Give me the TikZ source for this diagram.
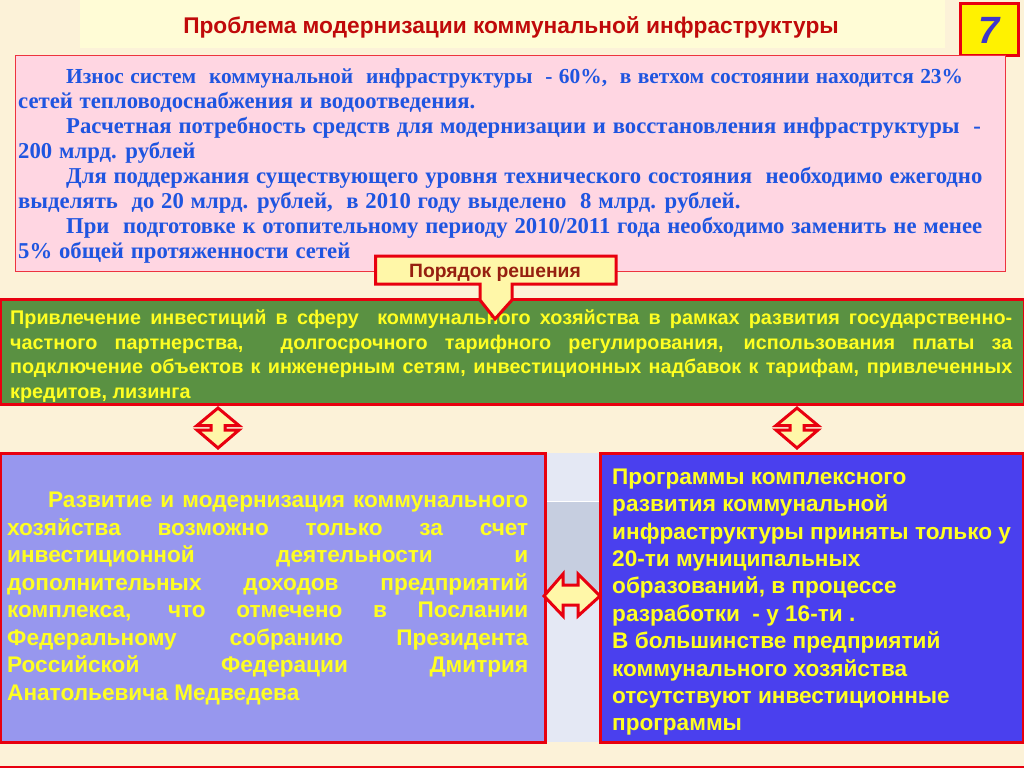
\documentclass[tikz,border=0pt]{standalone}
\usepackage{fontspec}
\setmainfont{Liberation Sans}
\newfontfamily\serifbody[WordSpace=1.2]{Liberation Serif}
\definecolor{bgcream}{HTML}{FCF2D8}
\definecolor{headyellow}{HTML}{FFFCD6}
\definecolor{boxpink}{HTML}{FFD6E2}
\definecolor{boxgreen}{HTML}{5A9142}
\definecolor{boxlilac}{HTML}{9797EE}
\definecolor{boxblue}{HTML}{4A40EE}
\definecolor{stripgrey}{HTML}{C6CEE0}
\definecolor{striplight}{HTML}{E4E8F4}
\definecolor{titlered}{HTML}{C00A0A}
\definecolor{orderred}{HTML}{962010}
\definecolor{bodyblue}{HTML}{1F55E0}
\definecolor{calloutfill}{HTML}{FFF7A8}
\definecolor{textyellow}{HTML}{FFFF22}
\definecolor{mainred}{HTML}{E8000F}
\tikzset{
	panel/.style={draw=mainred, line width=3pt, inner sep=0pt},
	signpath/.style={draw=mainred, line width=3pt, fill=calloutfill, line join=miter},
	paneltext/.style={anchor=north west, inner sep=0pt, text=textyellow}
}
\newcommand{\redline}{\hspace*{48pt}}
\begin{document}
\begin{tikzpicture}[x=1pt,y=-1pt]
	\useasboundingbox (0,0) rectangle (1024,768);
	
	% background
	\fill[bgcream] (0,0) rectangle (1024,768);
	\fill[headyellow] (80,0) rectangle (945,48);
	\draw[mainred, line width=2pt] (0,767) -- (1024,767);
	
	% title and number
	\node (title) at (511,27) {\fontsize{22.7}{26}\selectfont\bfseries\color{titlered}Проблема модернизации коммунальной инфраструктуры};
	\node[panel, fill=yellow, minimum width=58pt, minimum height=52pt] (number) at (989.5,30) {\fontsize{38}{42}\selectfont\bfseries\itshape\color{boxblue!85!black}7};
	
	% pink box
	\node[draw=mainred!80, line width=1pt, fill=boxpink, minimum width=990pt, minimum height=215pt] (problem) at (510,163.5) {};
	\node[anchor=north west, inner sep=0pt, align=left, text=bodyblue, font=\serifbody\bfseries\fontsize{22.7}{25}\selectfont] (problemtext) at (18,68) {%
		\redline{\fontsize{21.4}{25}\selectfont Износ систем ~коммунальной ~инфраструктуры ~- 60\%, ~в ветхом состоянии находится 23\%}\\
		сетей тепловодоснабжения и водоотведения.\\
		\redline Расчетная потребность средств для модернизации и восстановления инфраструктуры ~-\\
		200 млрд. рублей\\
		\redline Для поддержания существующего уровня технического состояния ~необходимо ежегодно\\
		выделять ~до 20 млрд. рублей, ~в 2010 году выделено ~8 млрд. рублей.\\
		\redline При ~подготовке к отопительному периоду 2010/2011 года необходимо заменить не менее\\
		5\% общей протяженности сетей};
	
	% green box
	\node[panel, fill=boxgreen, minimum width=1024pt, minimum height=105pt] (invest) at (512,351.5) {};
	\node[paneltext, text width=1002pt, align=justify, font=\bfseries\fontsize{19.8}{24.7}\selectfont] (investtext) at (10,309.5) {%
		Привлечение инвестиций в сферу ~коммунального хозяйства в рамках развития государственно-\linebreak
		частного партнерства, ~долгосрочного тарифного регулирования, использования платы за\linebreak
		подключение объектов к инженерным сетям, инвестиционных надбавок к тарифам, привлеченных\linebreak
		кредитов, лизинга};
	
	% callout over pink and green
	\draw[signpath] (375.5,256) -- (616,256) -- (616,284) -- (512,284) -- (512,300) -- (495,319) -- (480,300) -- (480,284) -- (375.5,284) -- cycle;
	\node[font=\bfseries\fontsize{19.3}{22}\selectfont, text=orderred] (order) at (495,273) {Порядок решения};
	
	% up and down signs
	\foreach \cx/\signname in {218/signleft, 797/signright} {
		\draw[signpath] (\cx,408) -- (\cx+21,425.5) -- (\cx+7,425.5) -- (\cx+7,430) -- (\cx+21,430) -- (\cx,448) -- (\cx-21,430) -- (\cx-7,430) -- (\cx-7,425.5) -- (\cx-21,425.5) -- cycle;
		\coordinate (\signname) at (\cx,428);
	}
	
	% strip between the two lower boxes
	\fill[striplight] (545,453) rectangle (600,742);
	\fill[stripgrey] (545,501) rectangle (600,590);
	\draw[white, line width=1pt] (543,501) -- (602,501);
	
	% lower boxes
	\node[panel, fill=boxlilac, minimum width=545pt, minimum height=289pt] (leftbox) at (272.5,597.5) {};
	\node[panel, fill=boxblue, minimum width=423pt, minimum height=289pt] (rightbox) at (811.5,597.5) {};
	\node[paneltext, text width=521pt, align=justify, font=\bfseries\fontsize{22.6}{27.5}\selectfont] (lefttext) at (7,492) {%
		\hspace*{41pt}Развитие и модернизация коммунального\linebreak
		хозяйства возможно только за счет\linebreak
		инвестиционной деятельности и\linebreak
		дополнительных доходов предприятий\linebreak
		комплекса, что отмечено в Послании\linebreak
		Федеральному собранию Президента\linebreak
		Российской Федерации Дмитрия\linebreak
		Анатольевича Медведева};
	\node[paneltext, align=left, font=\bfseries\fontsize{22.6}{27.4}\selectfont] (righttext) at (612,468.5) {%
		Программы комплексного\\
		развития коммунальной\\
		инфраструктуры приняты только у\\
		20-ти муниципальных\\
		образований, в процессе\\
		разработки ~- у 16-ти .\\
		В большинстве предприятий\\
		коммунального хозяйства\\
		отсутствуют инвестиционные\\
		программы};
	
	% sign between the lower boxes
	\draw[signpath] (544,596) -- (563,574) -- (563,585) -- (578,585) -- (578,574) -- (600,596) -- (578,616) -- (578,605) -- (563,605) -- (563,616) -- cycle;
	
\end{tikzpicture}
\end{document}
